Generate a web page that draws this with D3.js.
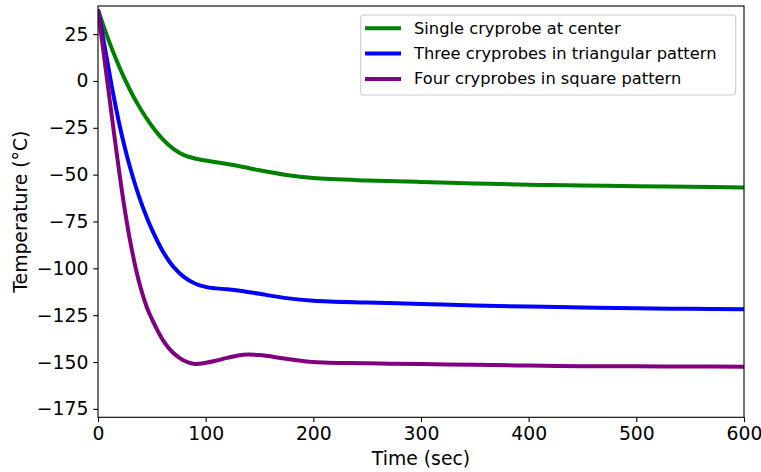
<!DOCTYPE html>
<html>
<head>
<meta charset="utf-8">
<script src="https://cdn.jsdelivr.net/npm/d3@7"></script>
<style>
  html, body { margin: 0; padding: 0; background: #fff; }
  svg { display: block; font-family: "DejaVu Sans", sans-serif; }
</style>
</head>
<body>
<svg id="chart" width="761" height="472"></svg>
<script>
// Sample times (s)
const timeSec = [0, 5, 10, 15, 20, 25, 30, 35, 40, 45, 50, 60, 70, 80, 90, 100, 110, 120, 135, 150, 175, 200, 250, 300, 350, 400, 450, 500, 550, 600];

// Temperature (°C) for each probe arrangement
const singleCenter = [38, 29.5, 21.5, 14.1, 7.2, 0.8, -5.1, -10.5, -15.4, -19.9, -24, -31, -36.2, -39.6, -41.4, -42.5, -43.4, -44.3, -45.9, -47.7, -50.2, -51.8, -53.1, -53.9, -54.7, -55.4, -55.8, -56.2, -56.5, -56.8];
const threeTriangular = [38, 22, 6, -9.5, -23.5, -35.8, -46.6, -56.2, -64.8, -72.4, -79.2, -90.7, -99.2, -104.7, -108.1, -109.9, -110.7, -111.2, -112.2, -113.6, -115.9, -117.3, -118.3, -119, -119.8, -120.4, -120.9, -121.3, -121.6, -121.8];
const fourSquare = [38, 16, -6.3, -28.5, -49.8, -69.2, -85.9, -99.8, -111.2, -120.2, -127, -138, -145.2, -149.3, -151, -150.4, -149.2, -147.8, -146.1, -146.3, -148.3, -150, -150.7, -151.1, -151.5, -151.9, -152.2, -152.3, -152.4, -152.5];

const seriesNames = ["Single cryprobe at center", "Three cryprobes in triangular pattern", "Four cryprobes in square pattern"];
const seriesColors = ["#008000", "#0000ff", "#800080"];
const seriesValues = [singleCenter, threeTriangular, fourSquare];

const xTicks = [0, 100, 200, 300, 400, 500, 600];
const yTicks = [25, 0, -25, -50, -75, -100, -125, -150, -175];

const svg = d3.select("#chart");
const margin = { left: 98, right: 17, top: 6, bottom: 54.7 };
const W = 761, H = 472;
const plotW = W - margin.left - margin.right;
const plotH = H - margin.top - margin.bottom;

const x = d3.scaleLinear().domain([0, 600]).range([0, plotW]);
const y = d3.scaleLinear().domain([-179.5, 40]).range([plotH, 0]);

const g = svg.append("g").attr("transform", `translate(${margin.left},${margin.top})`);

g.append("clipPath").attr("id", "plotClip")
  .append("rect").attr("width", plotW).attr("height", plotH);

const fmt = d3.format("d");

// Axes
const xAxis = g.append("g")
  .attr("transform", `translate(0,${plotH})`)
  .call(d3.axisBottom(x).tickValues(xTicks).tickFormat(fmt).tickSize(4.8).tickPadding(4.8).tickSizeOuter(0));
const yAxis = g.append("g")
  .call(d3.axisLeft(y).tickValues(yTicks).tickFormat(fmt).tickSize(4.8).tickPadding(4.8).tickSizeOuter(0));

[xAxis, yAxis].forEach(a => {
  a.select(".domain").remove();
  a.selectAll(".tick line").attr("stroke", "#000").attr("stroke-width", 1.1);
  a.selectAll(".tick text").attr("fill", "#000")
    .style("font-size", "18.8px").style("font-family", "DejaVu Sans");
});

// Curves
const line = d3.line()
  .x((d, i) => x(timeSec[i]))
  .y(d => y(d))
  .curve(d3.curveCatmullRom.alpha(0.5));

const curves = g.append("g").attr("clip-path", "url(#plotClip)");
seriesValues.forEach((vals, k) => {
  curves.append("path")
    .datum(vals)
    .attr("fill", "none")
    .attr("stroke", seriesColors[k])
    .attr("stroke-width", 4)
    .attr("stroke-linejoin", "round")
    .attr("d", line);
});

// Frame
g.append("rect")
  .attr("width", plotW).attr("height", plotH)
  .attr("fill", "none").attr("stroke", "#000").attr("stroke-width", 1.1);

// Axis titles
svg.append("text")
  .attr("x", margin.left + plotW / 2).attr("y", 465)
  .attr("text-anchor", "middle")
  .style("font-size", "18.8px")
  .text("Time (sec)");

svg.append("text")
  .attr("transform", `translate(27,${margin.top + plotH / 2}) rotate(-90)`)
  .attr("text-anchor", "middle")
  .style("font-size", "18.8px")
  .text("Temperature (°C)");

// Legend
const legend = svg.append("g");
legend.append("rect")
  .attr("x", 360.7).attr("y", 15).attr("width", 375).attr("height", 80)
  .attr("rx", 3.5).attr("ry", 3.5)
  .attr("fill", "#fff").attr("fill-opacity", 0.8)
  .attr("stroke", "#cccccc").attr("stroke-width", 1.1);

seriesNames.forEach((name, k) => {
  const ly = 28.3 + k * 25.3;
  legend.append("line")
    .attr("x1", 365).attr("x2", 401).attr("y1", ly).attr("y2", ly)
    .attr("stroke", seriesColors[k]).attr("stroke-width", 4);
  legend.append("text")
    .attr("x", 414).attr("y", ly + 5.2)
    .style("font-size", "16.3px")
    .text(name);
});
</script>
</body>
</html>
